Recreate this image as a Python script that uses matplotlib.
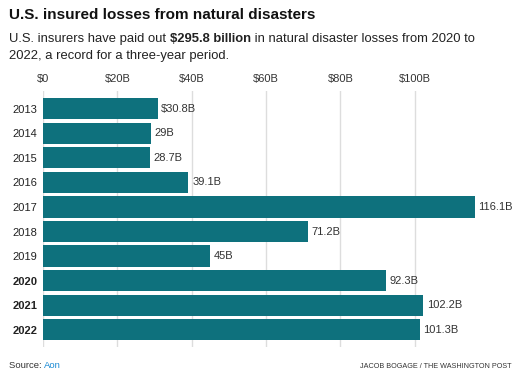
import matplotlib.pyplot as plt
import matplotlib as mpl

mpl.rcParams["font.family"] = ["Liberation Sans", "DejaVu Sans"]

years = ["2013", "2014", "2015", "2016", "2017", "2018", "2019", "2020", "2021", "2022"]
losses = [30.8, 29.0, 28.7, 39.1, 116.1, 71.2, 45.0, 92.3, 102.2, 101.3]
labels = ["$30.8B", "29B", "28.7B", "39.1B", "116.1B", "71.2B", "45B", "92.3B", "102.2B", "101.3B"]
bold_years = ["2020", "2021", "2022"]
xticks = [0, 20, 40, 60, 80, 100]
xtick_labels = ["$0", "$20B", "$40B", "$60B", "$80B", "$100B"]

W, H = 526, 383
fig = plt.figure(figsize=(W / 100, H / 100), dpi=100)

# axes placed in pixel terms: left 43, right 478, top 91, bottom 347
ax = fig.add_axes([43 / W, 1 - 347 / H, (478 - 43) / W, (347 - 91) / H])
ypos = list(range(len(years)))
ax.barh(ypos, losses, height=0.86, color="#0e717d", zorder=2)
ax.set_ylim(9.71, -0.73)
ax.set_xlim(0, 117)

for y, v, lab in zip(ypos, losses, labels):
    ax.text(v + 1.0, y, lab, va="center", ha="left", fontsize=8, color="#333333", clip_on=False)

ax.set_xticks(xticks)
ax.set_xticklabels(xtick_labels)
ax.xaxis.tick_top()
ax.tick_params(axis="x", length=0, labelsize=8, labelcolor="#333333", pad=5)
ax.set_yticks(ypos)
ax.set_yticklabels(years)
ax.tick_params(axis="y", length=0, labelsize=8, labelcolor="#222222", pad=4)
for t in ax.get_yticklabels():
    if t.get_text() in bold_years:
        t.set_fontweight("bold")
ax.grid(axis="x", color="#dddddd", linewidth=1, zorder=0)
for s in ax.spines.values():
    s.set_visible(False)

fig.text(9 / W, 1 - 15 / H, "U.S. insured losses from natural disasters", fontsize=11,
         fontweight="bold", color="#111111", va="center", ha="left")
fig.text(9 / W, 1 - 39 / H, "U.S. insurers have paid out ", fontsize=9.4,
         color="#222222", va="center", ha="left")
# bold part of the subtitle, positioned after the regular run
r = fig.canvas.get_renderer()
t1 = fig.texts[-1]
bb = t1.get_window_extent(r)
t2 = fig.text(bb.x1 / W, 1 - 39 / H, "$295.8 billion", fontsize=9.4, fontweight="bold",
              color="#222222", va="center", ha="left")
bb2 = t2.get_window_extent(r)
fig.text(bb2.x1 / W, 1 - 39 / H, " in natural disaster losses from 2020 to", fontsize=9.4,
         color="#222222", va="center", ha="left")
fig.text(9 / W, 1 - 56 / H, "2022, a record for a three-year period.", fontsize=9.4,
         color="#222222", va="center", ha="left")

t3 = fig.text(9 / W, 1 - 366 / H, "Source: ", fontsize=6.8, color="#333333", va="center", ha="left")
bb3 = t3.get_window_extent(r)
fig.text(bb3.x1 / W, 1 - 366 / H, "Aon", fontsize=6.8, color="#1a8ad4", va="center", ha="left")
fig.text(511 / W, 1 - 366 / H, "JACOB BOGAGE / THE WASHINGTON POST", fontsize=5.2,
         color="#333333", va="center", ha="right")

fig.savefig("out.png", dpi=100)
